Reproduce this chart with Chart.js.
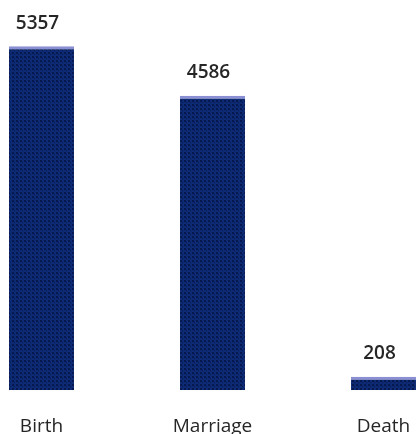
<!DOCTYPE html>
<html lang="en">
  <head>
    <meta charset="UTF-8" />
    <title>Registrations</title>
    <script src="https://cdn.jsdelivr.net/npm/chart.js@4.4.0/dist/chart.umd.min.js"></script>
    <style>
      html, body { margin: 0; padding: 0; background: #fff; overflow: hidden; }
      .frame { position: relative; width: 416px; height: 434px; overflow: hidden; }
      .wrap { position: absolute; left: -44px; top: 0; width: 513px; height: 455px; }
    </style>
  </head>
  <body>
    <div class="frame">
      <div class="wrap"><canvas id="regChart" width="513" height="455"></canvas></div>
    </div>
    <script>
      const categories = ["Birth", "Marriage", "Death"];
      const counts = [5357, 4586, 208];
      const yMax = 6000;

      // dotted navy fill
      function makePattern() {
        const c = document.createElement("canvas");
        c.width = 4;
        c.height = 4;
        const g = c.getContext("2d");
        g.fillStyle = "#0d2a74";
        g.fillRect(0, 0, 4, 4);
        g.fillStyle = "#06184e";
        g.fillRect(0, 0, 2, 2);
        g.fillRect(2, 2, 1, 1);
        return g.createPattern(c, "repeat");
      }

      const valueLabels = {
        id: "valueLabels",
        afterDatasetsDraw(chart) {
          const ctx = chart.ctx;
          const meta = chart.getDatasetMeta(0);
          ctx.save();
          ctx.fillStyle = "#262626";
          ctx.font = "600 19px 'Open Sans'";
          ctx.textAlign = "center";
          ctx.textBaseline = "middle";
          meta.data.forEach((bar, i) => {
            ctx.fillText(String(counts[i]), bar.x - 4, bar.y - 23);
          });
          ctx.restore();
        },
      };

      const ctx = document.getElementById("regChart").getContext("2d");
      new Chart(ctx, {
        type: "bar",
        data: {
          labels: categories,
          datasets: [
            {
              data: counts,
              backgroundColor: makePattern(),
              borderColor: "#8a8fd4",
              borderWidth: { top: 3, left: 0, right: 0, bottom: 0 },
              borderSkipped: "bottom",
              barPercentage: 0.38,
              categoryPercentage: 1,
            },
          ],
        },
        options: {
          responsive: false,
          animation: false,
          devicePixelRatio: 1,
          layout: { padding: { top: 5, bottom: 0, left: 0, right: 0 } },
          plugins: { legend: { display: false }, tooltip: { enabled: false } },
          scales: {
            x: {
              grid: { display: false },
              border: { display: false },
              ticks: {
                color: "#262626",
                font: { family: "'Open Sans'", size: 19 },
                padding: 17,
              },
            },
            y: {
              display: false,
              min: 0,
              max: yMax,
            },
          },
        },
        plugins: [valueLabels],
      });
    </script>
  </body>
</html>
